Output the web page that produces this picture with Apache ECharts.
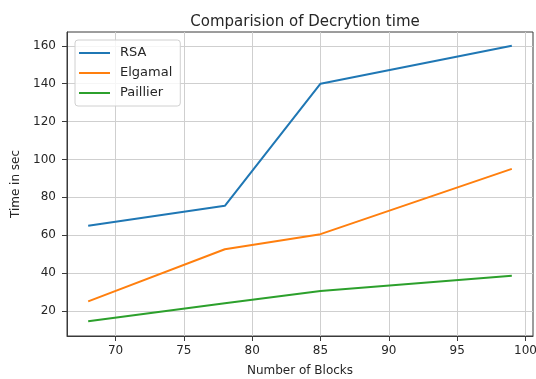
<!DOCTYPE html>
<html>
<head>
<meta charset="utf-8">
<script src="https://cdn.jsdelivr.net/npm/echarts@6/dist/echarts.min.js"></script>
<style>
html,body{margin:0;padding:0;background:#fff;}
#chart{width:536px;height:379px;}
</style>
</head>
<body>
<div id="chart"></div>
<script>
var blocks = [68, 78, 85, 99];
var rsa = [65, 75.5, 140, 160];
var elgamal = [25, 52.5, 60.5, 95];
var paillier = [14.5, 24, 30.5, 38.5];
var seriesNames = ['RSA', 'Elgamal', 'Paillier'];
var xTicks = [70, 75, 80, 85, 90, 95, 100];
var yTicks = [20, 40, 60, 80, 100, 120, 140, 160];

function pairs(xs, ys) { return xs.map(function (x, i) { return [x, ys[i]]; }); }

var font = 'DejaVu Sans';
var textColor = '#262626';
var chart = echarts.init(document.getElementById('chart'), null, {renderer: 'canvas'});
chart.setOption({
  animation: false,
  backgroundColor: '#fff',
  title: {
    text: 'Comparision of Decrytion time',
    left: 300, top: 10, textAlign: 'center',
    textStyle: {fontFamily: font, fontSize: 15, fontWeight: 'normal', color: textColor}
  },
  grid: {left: 67, top: 32, right: 3, bottom: 43, show: true, borderColor: '#3a3a3a', borderWidth: 1, containLabel: false, outerBoundsMode: 'none'},
  legend: {
    orient: 'vertical', left: 75, top: 40,
    padding: [6, 8, 6, 4],
    borderColor: '#d0d0d0', borderWidth: 1, borderRadius: 3,
    backgroundColor: 'rgba(255,255,255,0.8)',
    itemWidth: 31, itemHeight: 2, itemGap: 6, icon: 'rect',
    textStyle: {fontFamily: font, fontSize: 13, color: textColor, lineHeight: 14, padding: [0, 0, 0, 5]},
    data: seriesNames
  },
  xAxis: {
    type: 'value', min: 66.45, max: 100.55,
    name: 'Number of Blocks', nameLocation: 'middle', nameGap: 29,
    nameTextStyle: {fontFamily: font, fontSize: 12, color: textColor},
    axisLine: {show: true, lineStyle: {color: '#3a3a3a'}},
    axisTick: {show: true, customValues: xTicks, length: 5, lineStyle: {color: '#3a3a3a'}},
    axisLabel: {customValues: xTicks, margin: 9, fontFamily: font, fontSize: 12, color: textColor},
    splitNumber: 6,
    splitLine: {show: true, lineStyle: {color: '#cfcfcf', width: 1}}
  },
  yAxis: {
    type: 'value', min: 6.7, max: 167.3,
    name: 'Time in sec', nameLocation: 'middle', nameGap: 44, nameRotate: 90,
    nameTextStyle: {fontFamily: font, fontSize: 12, color: textColor},
    axisLine: {show: true, lineStyle: {color: '#3a3a3a'}},
    axisTick: {show: true, customValues: yTicks, length: 5, lineStyle: {color: '#3a3a3a'}},
    axisLabel: {customValues: yTicks, margin: 11, fontFamily: font, fontSize: 12, color: textColor},
    splitNumber: 8,
    splitLine: {show: true, lineStyle: {color: '#cfcfcf', width: 1}}
  },
  series: [
    {name: seriesNames[0], type: 'line', data: pairs(blocks, rsa), showSymbol: false, symbol: 'none', lineStyle: {width: 2, color: '#1f77b4'}, itemStyle: {color: '#1f77b4'}},
    {name: seriesNames[1], type: 'line', data: pairs(blocks, elgamal), showSymbol: false, symbol: 'none', lineStyle: {width: 2, color: '#ff7f0e'}, itemStyle: {color: '#ff7f0e'}},
    {name: seriesNames[2], type: 'line', data: pairs(blocks, paillier), showSymbol: false, symbol: 'none', lineStyle: {width: 2, color: '#2ca02c'}, itemStyle: {color: '#2ca02c'}}
  ]
});
</script>
</body>
</html>
